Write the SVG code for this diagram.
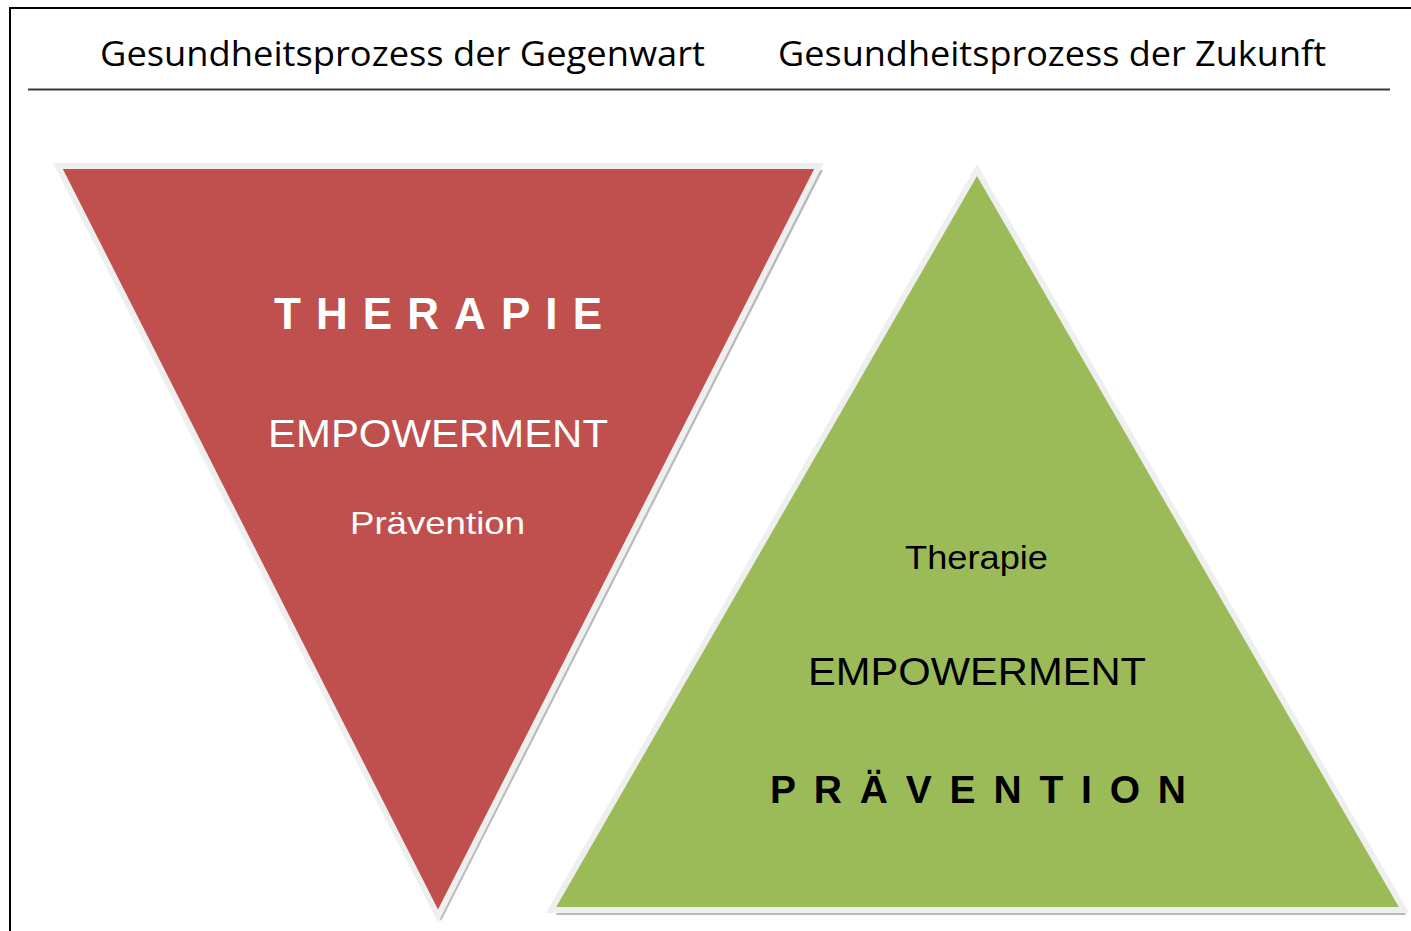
<svg xmlns="http://www.w3.org/2000/svg" width="1411" height="931" viewBox="0 0 1411 931">
<style>
.title{font-family:"Open Sans","Liberation Sans",sans-serif;font-size:35px;fill:#000}
.lbl{font-family:"Liberation Sans",Arial,sans-serif}
.w{fill:#ffffff}
.k{fill:#000000}
.b{font-weight:bold}
.rim{stroke:#efefef;stroke-width:6;stroke-linejoin:miter}
.shadow{fill:#7f7f7f;opacity:0.55}
</style>
<rect width="1411" height="931" fill="#ffffff"/>
<g id="frame">
<path d="M10,931 V8 H1411" fill="none" stroke="#000" stroke-width="2"/>
<line x1="28" y1="89.5" x2="1390" y2="89.5" stroke="#3a3a3a" stroke-width="2"/>
</g>
<g id="header">
<text class="title" x="100" y="66" textLength="605" lengthAdjust="spacingAndGlyphs">Gesundheitsprozess der Gegenwart</text>
<text class="title" x="778" y="66" textLength="548" lengthAdjust="spacingAndGlyphs">Gesundheitsprozess der Zukunft</text>
</g>
<g id="present">
<polygon class="shadow" points="62,170 823,170 441,921"/>
<polygon class="rim" fill="#C0504D" points="58,166 819,166 438,916"/>
<text class="lbl w b" x="274" y="329" font-size="44" textLength="328" lengthAdjust="spacing">THERAPIE</text>
<text class="lbl w" x="268" y="447" font-size="38" textLength="340" lengthAdjust="spacingAndGlyphs">EMPOWERMENT</text>
<text class="lbl w" x="350" y="534" font-size="32" textLength="175" lengthAdjust="spacingAndGlyphs">Prävention</text>
</g>
<g id="future">
<polygon class="shadow" points="980,176 1406,915 556,915"/>
<polygon class="rim" fill="#9BBB59" points="977,170 1404,910 551,910"/>
<text class="lbl k" x="905" y="569" font-size="33" textLength="143" lengthAdjust="spacingAndGlyphs">Therapie</text>
<text class="lbl k" x="808" y="685" font-size="39" textLength="338" lengthAdjust="spacingAndGlyphs">EMPOWERMENT</text>
<text class="lbl k b" x="770" y="803" font-size="39" textLength="416" lengthAdjust="spacing">PRÄVENTION</text>
</g>
<g id="connectors"></g>
</svg>
